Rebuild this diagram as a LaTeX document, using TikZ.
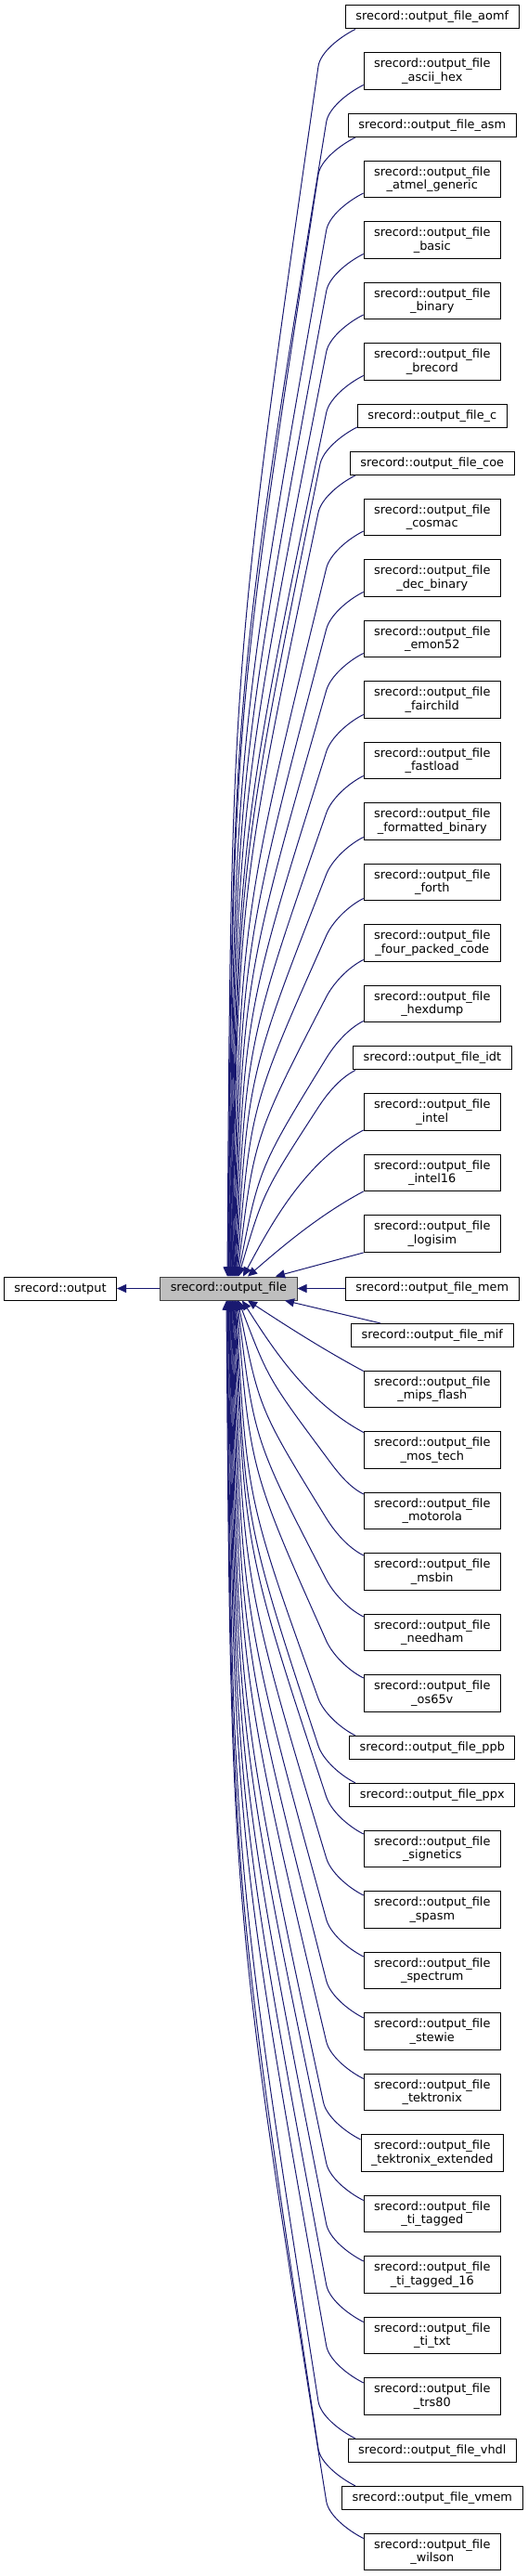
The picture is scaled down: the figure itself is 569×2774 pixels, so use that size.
\documentclass[tikz,border=0pt]{standalone}
\usepackage{fontspec}
\setmainfont{DejaVu Sans}
\usetikzlibrary{arrows.meta,calc}
\definecolor{edgecol}{HTML}{191970}
\definecolor{mainfill}{HTML}{BFBFBF}
\newcommand\dxfont{\fontsize{12.9}{14.5}\selectfont}
% far edge: a short bend, then a quadratic whose arrival tilts less the longer it is
\newcommand\faredge[5]{% id, start, end anchor (north/south), end x, vertical sign
  \coordinate (s#1) at (#2);
  \coordinate (e#1) at ($(main.#3)+(#4-246.4,0)$);
  \coordinate (m#1) at ($(s#1)+(-40,#5*40)$);
  \coordinate (c#1) at ($(m#1)!0.5!(e#1)$);
  \path let \p1=(m#1), \p2=(e#1), \n1={57/abs(\y2-\y1)*(\x1-\x2)} in
    coordinate (q#1) at ($(e#1 |- c#1)+(\n1,0pt)$);
  \draw[edge] (s#1) .. controls ($(s#1)+(-17.8,#5*9)$) and ($(m#1)!-15pt!(q#1)$) .. (m#1) .. controls (q#1) .. (e#1);}
\newcommand\farup[3]{\faredge{#1}{#2}{north}{#3}{1}}
\newcommand\fardown[3]{\faredge{#1}{#2}{south}{#3}{-1}}
\newcommand\nearedge[6]{% id, start, end anchor, end x, a, vertical sign
  \coordinate (s#1) at (#2);
  \coordinate (e#1) at ($(main.#3)+(#4-246.4,0)$);
  \coordinate (k#1) at ($(s#1)+(-0.88*#5,#6*0.47*#5)$);
  \draw[edge] (s#1) .. controls (k#1) and ($(e#1)!0.45!(k#1)$) .. (e#1);}
\begin{document}
\begin{tikzpicture}[x=1pt,y=-1pt,
  cls/.style={draw=black,line width=1pt,fill=white,inner xsep=11pt,inner ysep=0pt,
    minimum height=25pt,font=\dxfont,text=black},
  cls2/.style={cls,minimum height=39.5pt,align=center},
  edge/.style={draw=edgecol,line width=1pt,-{Triangle[length=10pt,width=9pt]}}]
\useasboundingbox (0,0) rectangle (569,2774);
% base and main class
\node[cls] (out) at (65,1387.5) {srecord::output};
\node[cls,draw=black!75,fill=mainfill] (main) at (246.4,1387.5) {srecord::output\_file};
% derived classes
\node[cls] (aomf) at (465.8,18.45) {srecord::output\_file\_aomf};
\node[cls2] (asciihex) at (465.8,76.7) {srecord::output\_file\\\_ascii\_hex};
\node[cls] (asm) at (465.8,134.95) {srecord::output\_file\_asm};
\node[cls2] (atmel) at (465.8,193.2) {srecord::output\_file\\\_atmel\_generic};
\node[cls2] (basic) at (465.8,258.7) {srecord::output\_file\\\_basic};
\node[cls2] (binary) at (465.8,324.2) {srecord::output\_file\\\_binary};
\node[cls2] (brecord) at (465.8,389.7) {srecord::output\_file\\\_brecord};
\node[cls] (cfile) at (465.8,447.95) {srecord::output\_file\_c};
\node[cls] (coe) at (465.8,498.95) {srecord::output\_file\_coe};
\node[cls2] (cosmac) at (465.8,557.2) {srecord::output\_file\\\_cosmac};
\node[cls2] (decbin) at (465.8,622.7) {srecord::output\_file\\\_dec\_binary};
\node[cls2] (emon) at (465.8,688.2) {srecord::output\_file\\\_emon52};
\node[cls2] (fairchild) at (465.8,753.7) {srecord::output\_file\\\_fairchild};
\node[cls2] (fastload) at (465.8,819.2) {srecord::output\_file\\\_fastload};
\node[cls2] (fmtbin) at (465.8,884.7) {srecord::output\_file\\\_formatted\_binary};
\node[cls2] (forth) at (465.8,950.2) {srecord::output\_file\\\_forth};
\node[cls2] (fpc) at (465.8,1015.7) {srecord::output\_file\\\_four\_packed\_code};
\node[cls2] (hexdump) at (465.8,1081.2) {srecord::output\_file\\\_hexdump};
\node[cls] (idt) at (465.8,1139.45) {srecord::output\_file\_idt};
\node[cls2] (intel) at (465.8,1197.7) {srecord::output\_file\\\_intel};
\node[cls2] (intelsix) at (465.8,1263.2) {srecord::output\_file\\\_intel16};
\node[cls2] (logisim) at (465.8,1328.7) {srecord::output\_file\\\_logisim};
\node[cls] (mem) at (465.8,1387.5) {srecord::output\_file\_mem};
\node[cls] (mif) at (465.8,1437.95) {srecord::output\_file\_mif};
\node[cls2] (mips) at (465.8,1496.2) {srecord::output\_file\\\_mips\_flash};
\node[cls2] (mostech) at (465.8,1561.7) {srecord::output\_file\\\_mos\_tech};
\node[cls2] (motorola) at (465.8,1627.2) {srecord::output\_file\\\_motorola};
\node[cls2] (msbin) at (465.8,1692.7) {srecord::output\_file\\\_msbin};
\node[cls2] (needham) at (465.8,1758.2) {srecord::output\_file\\\_needham};
\node[cls2] (osv) at (465.8,1823.7) {srecord::output\_file\\\_os65v};
\node[cls] (ppb) at (465.8,1881.95) {srecord::output\_file\_ppb};
\node[cls] (ppx) at (465.8,1932.95) {srecord::output\_file\_ppx};
\node[cls2] (signetics) at (465.8,1991.2) {srecord::output\_file\\\_signetics};
\node[cls2] (spasm) at (465.8,2056.7) {srecord::output\_file\\\_spasm};
\node[cls2] (spectrum) at (465.8,2122.2) {srecord::output\_file\\\_spectrum};
\node[cls2] (stewie) at (465.8,2187.7) {srecord::output\_file\\\_stewie};
\node[cls2] (tek) at (465.8,2253.2) {srecord::output\_file\\\_tektronix};
\node[cls2] (tekext) at (465.8,2318.7) {srecord::output\_file\\\_tektronix\_extended};
\node[cls2] (titag) at (465.8,2384.2) {srecord::output\_file\\\_ti\_tagged};
\node[cls2] (titagsix) at (465.8,2449.7) {srecord::output\_file\\\_ti\_tagged\_16};
\node[cls2] (titxt) at (465.8,2515.2) {srecord::output\_file\\\_ti\_txt};
\node[cls2] (trs) at (465.8,2580.7) {srecord::output\_file\\\_trs80};
\node[cls] (vhdl) at (465.8,2638.95) {srecord::output\_file\_vhdl};
\node[cls] (vmem) at (465.8,2689.95) {srecord::output\_file\_vmem};
\node[cls2] (wilson) at (465.8,2748.2) {srecord::output\_file\\\_wilson};
% horizontal edges
\draw[edge] (main.west) -- (out.east);
\draw[edge] (mem.west) -- (main.east);
% edges from the classes above
\farup{aomf}{$(aomf.south)+(-82.8,0)$}{245}
\farup{asciihex}{$(asciihex.south west)+(0,-5.5)$}{245.7}
\farup{asm}{$(asm.south)+(-82.8,0)$}{246.3}
\farup{atmel}{$(atmel.south west)+(0,-5.5)$}{247}
\farup{basic}{$(basic.south west)+(0,-5.5)$}{247.7}
\farup{binary}{$(binary.south west)+(0,-5.5)$}{248.3}
\farup{brecord}{$(brecord.south west)+(0,-5.5)$}{249}
\farup{cfile}{$(cfile.south west)+(0,-1)$}{249.7}
\farup{coe}{$(coe.south)+(-82.8,0)$}{250.3}
\farup{cosmac}{$(cosmac.south west)+(0,-5.5)$}{251}
\farup{decbin}{$(decbin.south west)+(0,-5.5)$}{251.7}
\farup{emon}{$(emon.south west)+(0,-5)$}{252.3}
\farup{fairchild}{$(fairchild.south west)+(0,-4.5)$}{253}
\farup{fastload}{$(fastload.south west)+(0,-4)$}{253.7}
\farup{fmtbin}{$(fmtbin.south west)+(0,-3.5)$}{254.3}
\farup{forth}{$(forth.south west)+(0,-3)$}{255}
\farup{fpc}{$(fpc.south west)+(0,-2.5)$}{255.7}
\farup{hexdump}{$(hexdump.south west)+(0,-2)$}{256.3}
\farup{idt}{$(idt.south)+(-82.8,0)$}{257}
\nearedge{intel}{$(intel.south west)+(0,-1)$}{north}{262}{72}{1}
\nearedge{intelsix}{$(intelsix.south west)+(0,-0.5)$}{north}{267}{56}{1}
\coordinate (elogisim) at ($(main.north)+(297-246.4,0)$);
\draw[edge] (logisim.south west) -- (elogisim);
% edges from the classes below
\coordinate (smif) at ($(mif.north west)+(32,0)$);
\coordinate (emif) at ($(main.south)+(307-246.4,0)$);
\draw[edge] (smif) -- (emif);
\nearedge{mips}{$(mips.north west)+(0,0.5)$}{south}{267}{52}{-1}
\nearedge{mostech}{$(mostech.north west)+(0,1)$}{south}{261}{69}{-1}
\fardown{motorola}{$(motorola.north west)+(0,2)$}{257}
\fardown{msbin}{$(msbin.north west)+(0,2.5)$}{256.3}
\fardown{needham}{$(needham.north west)+(0,3)$}{255.6}
\fardown{osv}{$(osv.north west)+(0,3.5)$}{254.8}
\fardown{ppb}{$(ppb.north)+(-82.8,0)$}{254.1}
\fardown{ppx}{$(ppx.north)+(-82.8,0)$}{253.4}
\fardown{signetics}{$(signetics.north west)+(0,4)$}{252.7}
\fardown{spasm}{$(spasm.north west)+(0,4.5)$}{251.9}
\fardown{spectrum}{$(spectrum.north west)+(0,5)$}{251.2}
\fardown{stewie}{$(stewie.north west)+(0,5.5)$}{250.5}
\fardown{tek}{$(tek.north west)+(0,5.5)$}{249.8}
\fardown{tekext}{$(tekext.north west)+(0,5.5)$}{249.1}
\fardown{titag}{$(titag.north west)+(0,5.5)$}{248.3}
\fardown{titagsix}{$(titagsix.north west)+(0,5.5)$}{247.6}
\fardown{titxt}{$(titxt.north west)+(0,5.5)$}{246.9}
\fardown{trs}{$(trs.north west)+(0,5.5)$}{246.2}
\fardown{vhdl}{$(vhdl.north)+(-82.8,0)$}{245.4}
\fardown{vmem}{$(vmem.north)+(-82.8,0)$}{244.7}
\fardown{wilson}{$(wilson.north west)+(0,5.5)$}{244}
\end{tikzpicture}
\end{document}
